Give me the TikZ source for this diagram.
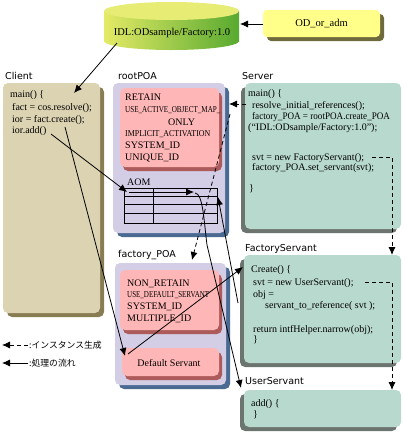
\documentclass[tikz,border=0pt]{standalone}
\usepackage{fontspec}
\usepackage{graphicx}
\setmainfont{Liberation Serif}
\newfontfamily\lblfont{DejaVu Sans}
\newfontfamily\jpfont{Noto Sans CJK JP}
\usetikzlibrary{arrows.meta,shadows}
\definecolor{clientfill}{HTML}{DCD3B3}
\definecolor{clientshadow}{HTML}{877C52}
\definecolor{poafill}{HTML}{D3CDE6}
\definecolor{poashadow}{HTML}{4A6A92}
\definecolor{pinkfill}{HTML}{FFB6B6}
\definecolor{pinkshadow}{HTML}{AD5A5A}
\definecolor{srvfill}{HTML}{B8D9CD}
\definecolor{srvshadow}{HTML}{6B746E}
\definecolor{odfill}{HTML}{FFFF8A}
\definecolor{odshadow}{HTML}{6E6A3C}
\definecolor{cyltop}{HTML}{E6EC74}
\definecolor{cylleft}{HTML}{E4EA66}
\definecolor{cylright}{HTML}{58AA30}
\newcommand{\sqz}[2]{\scalebox{#1}[1]{#2}}
\tikzset{
  box/.style={anchor=north west, rounded corners=5pt, inner sep=0pt, outer sep=0pt},
  clientbox/.style={box, fill=clientfill, drop shadow={shadow xshift=4pt, shadow yshift=-4pt, fill=clientshadow, opacity=1}},
  poabox/.style={box, fill=poafill, drop shadow={shadow xshift=4pt, shadow yshift=-4pt, fill=poashadow, opacity=1}},
  pinkbox/.style={box, fill=pinkfill, drop shadow={shadow xshift=3pt, shadow yshift=-4pt, fill=pinkshadow, opacity=1}},
  srvbox/.style={box, fill=srvfill, drop shadow={shadow xshift=-4pt, shadow yshift=-4pt, fill=srvshadow, opacity=1}},
  odbox/.style={box, rounded corners=4pt, fill=odfill, drop shadow={shadow xshift=4pt, shadow yshift=-4pt, fill=odshadow, opacity=1}},
  code/.style={anchor=base west, inner sep=0pt, font=\fontsize{10}{12}\selectfont},
  small/.style={anchor=base west, inner sep=0pt, font=\fontsize{9}{11}\selectfont},
  lbl/.style={anchor=base west, inner sep=0pt, font=\lblfont\fontsize{9.5}{11}\selectfont},
  jp/.style={anchor=west, inner sep=0pt, font=\jpfont\fontsize{8.8}{10}\selectfont},
  flow/.style={line width=0.8pt, -{Latex[length=8pt,width=7pt]}},
  inst/.style={flow, dash pattern=on 4pt off 3pt},
  grid/.style={line width=0.8pt}
}
\begin{document}
\begin{tikzpicture}[x=1pt, y=-1pt]
\useasboundingbox (0,0) rectangle (403,432);

% ---- cylinder ----
\shade[left color=cylleft, right color=cylright] (104,11) rectangle (239,41);
\shade[left color=cylleft, right color=cylright] (171.5,41) ellipse [x radius=67.5, y radius=9];
\fill[cyltop] (171.5,11) ellipse [x radius=67.5, y radius=9];
\node[inner sep=0pt, font=\fontsize{10.5}{12}\selectfont] (idl) at (172,33) {IDL:ODsample/Factory:1.0};

% ---- OD_or_adm ----
\node[odbox, minimum width=117, minimum height=27] (odadm) at (263,10) {};
\node[inner sep=0pt, font=\fontsize{10.5}{12}\selectfont] (odtxt) at (321.5,23.5) {OD\_or\_adm};

% ---- boxes ----
\node[clientbox, minimum width=97, minimum height=230] (client) at (3,83) {};
\node[poabox, minimum width=112, minimum height=150] (rootpoa) at (113,83) {};
\node[poabox, minimum width=111, minimum height=122] (factpoa) at (115,263) {};
\node[pinkbox, minimum width=99, minimum height=79] (rpink) at (120,88) {};
\node[pinkbox, minimum width=99, minimum height=60] (fpink) at (120,270) {};
\node[pinkbox, minimum width=97, minimum height=28] (defsvt) at (122,348) {};
\node[srvbox, minimum width=156, minimum height=146] (server) at (245,83) {};
\node[srvbox, minimum width=157, minimum height=108] (factsvt) at (244,255) {};
\node[srvbox, minimum width=157, minimum height=37] (usersvt) at (244,390) {};

% ---- labels ----
\node[lbl] (lclient) at (5,79) {Client};
\node[lbl] (lroot) at (118,79) {rootPOA};
\node[lbl] (lserver) at (242,79) {Server};
\node[lbl] (lfpoa) at (118,257) {factory\_POA};
\node[lbl] (lfsvt) at (245,251) {FactoryServant};
\node[lbl] (lusvt) at (245,384) {UserServant};

% ---- client code ----
\node[code] (c1) at (10,97) {main() \{};
\node[code] (c2) at (12,110) {fact = cos.resolve();};
\node[code] (c3) at (12,122) {ior = fact.create();};
\node[code] (c4) at (12,133.5) {ior.add()};

% ---- rootPOA policies ----
\node[code] (r1) at (125,100.5) {RETAIN};
\node[small] (r2) at (125,112) {\sqz{0.79}{USE\_ACTIVE\_OBJECT\_MAP\_}};
\node[code] (r3) at (168,125.5) {ONLY};
\node[small] (r4) at (125,136.5) {\sqz{0.88}{IMPLICIT\_ACTIVATION}};
\node[code] (r5) at (125,148.5) {SYSTEM\_ID};
\node[code] (r6) at (125,160.5) {UNIQUE\_ID};

% ---- AOM ----
\node[code] (aom) at (127,185.5) {AOM};
\draw[grid] (124,188) rectangle (217,223);
\draw[grid] (124,196) -- (217,196) (124,204) -- (217,204) (124,213) -- (217,213);
\draw[grid] (153,188) -- (153,223);

% ---- factory_POA policies ----
\node[code] (f1) at (127,286.5) {NON\_RETAIN};
\node[small] (f2) at (127,297.5) {\sqz{0.78}{USE\_DEFAULT\_SERVANT}};
\node[code] (f3) at (127,309.5) {SYSTEM\_ID};
\node[code] (f4) at (127,321.5) {MULTIPLE\_ID};
\node[inner sep=0pt, font=\fontsize{10}{12}\selectfont] (dstxt) at (169,363) {Default Servant};

% ---- server code ----
\node[code] (s1) at (248,96.5) {main() \{};
\node[code] (s2) at (252,108.5) {resolve\_initial\_references();};
\node[code] (s3) at (252,119.5) {\sqz{0.91}{factory\_POA = rootPOA.create\_POA}};
\node[code] (s4) at (248,130.5) {(“IDL:ODsample/Factory:1.0”);};
\node[code] (s5) at (252,160) {svt = new FactoryServant();};
\node[code] (s6) at (252,170.5) {factory\_POA.set\_servant(svt);};
\node[code] (s7) at (249,191.5) {\}};

% ---- FactoryServant code ----
\node[code] (fs1) at (251,272.5) {Create() \{};
\node[code] (fs2) at (253,285.5) {svt = new UserServant();};
\node[code] (fs3) at (253,297.5) {obj =};
\node[code] (fs4) at (265,308.5) {servant\_to\_reference( svt );};
\node[code] (fs5) at (253,332.5) {return intfHelper.narrow(obj);};
\node[code] (fs6) at (253,342.5) {\}};

% ---- UserServant code ----
\node[code] (us1) at (251,406.5) {add() \{};
\node[code] (us2) at (253,417) {\}};

% ---- legend ----
\coordinate (lg1a) at (28,345);
\coordinate (lg1b) at (2,345);
\coordinate (lg2a) at (28,363);
\coordinate (lg2b) at (2,363);
\node[jp] (lgt1) at (29,345) {:インスタンス生成};
\node[jp] (lgt2) at (29,363) {:処理の流れ};
\draw[inst] (lg1a) -- (lg1b);
\draw[flow] (lg2a) -- (lg2b);

% ---- connector end points ----
\coordinate (odL) at (263,24);
\coordinate (cylR) at (240,24);
\coordinate (cylB) at (117,43);
\coordinate (cliT) at (74,93);
\coordinate (resolveL) at (246,104);
\coordinate (rootR) at (229,104);
\coordinate (createPOA) at (230,114);
\coordinate (fpoaT) at (192,260);
\coordinate (newFS) at (372,157);
\coordinate (fsT) at (392,255);
\coordinate (factCreate) at (65,127);
\coordinate (dsTip) at (125,356);
\coordinate (dsOut) at (128,354);
\coordinate (fsTL) at (243,267);
\coordinate (s2r) at (238,303);
\coordinate (aomR) at (218,197);
\coordinate (newUS) at (365,282);
\coordinate (usT) at (392,390);
\coordinate (iorAdd) at (51,134);
\coordinate (aomL) at (127,192);
\coordinate (aomIn) at (129,192);
\coordinate (aomMid) at (194,192);
\coordinate (aomOut) at (195,193);
\coordinate (usL) at (241,388);

% ---- connectors ----
\draw[flow] (odL) -- (cylR);
\draw[flow] (cylB) -- (cliT);
\draw[inst] (resolveL) -- (rootR);
\draw[inst] (createPOA) -- (fpoaT);
\draw[inst] (newFS) -| (fsT);
\draw[inst] (newUS) -| (usT);
\draw[flow] (factCreate) -- (dsTip);
\draw[flow] (dsOut) -- (fsTL);
\draw[flow] (s2r) -- (aomR);
\draw[flow] (iorAdd) -- (aomL);
\draw[flow] (aomIn) -- (aomMid);
\draw[flow] (aomOut) .. controls (203,193) and (204,222) .. (207,245) -- (usL);
\end{tikzpicture}
\end{document}
